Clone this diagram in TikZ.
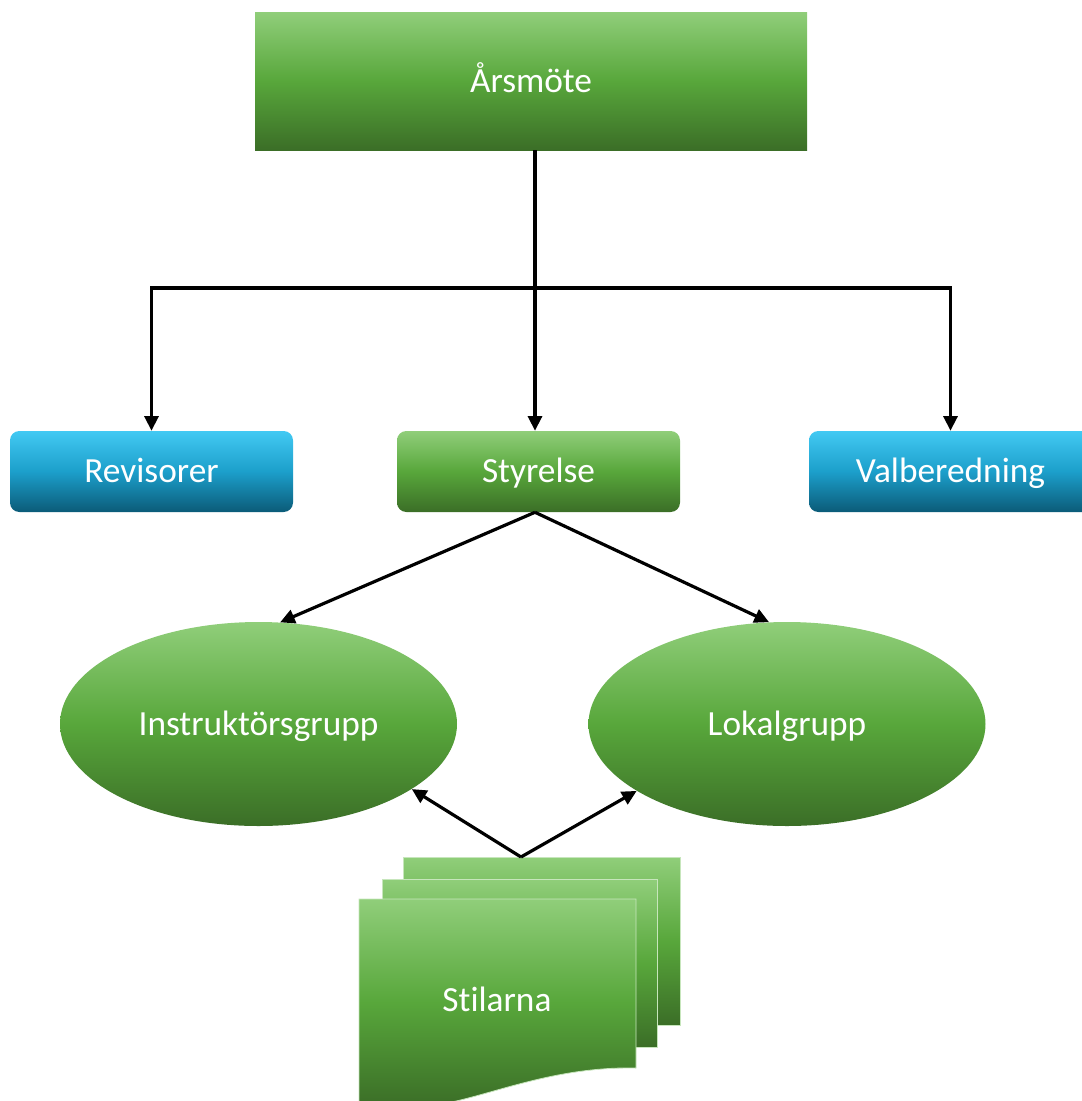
\documentclass[tikz,border=0pt]{standalone}
\usepackage{fontspec}
\setmainfont{Carlito}[Ligatures=NoCommon]
\usetikzlibrary{arrows.meta,shapes.geometric}
\definecolor{gtop}{HTML}{90CE7A}
\definecolor{gmid}{HTML}{58A73B}
\definecolor{gbot}{HTML}{3B6E27}
\definecolor{btop}{HTML}{42C9F3}
\definecolor{bmid}{HTML}{1C9FCB}
\definecolor{bbot}{HTML}{0B5B78}

\begin{document}
\begin{tikzpicture}[x=0.75pt,y=-0.75pt]
\tikzstyle{every node}+=[inner sep=0pt,text=white,font=\fontsize{26.5}{30}\selectfont,text height=17pt,text depth=0pt]
\tikzstyle{greenfill}=[top color=gtop,bottom color=gbot,middle color=gmid]
\tikzstyle{bluefill}=[top color=btop,bottom color=bbot,middle color=bmid]
\tikzstyle{box}=[rectangle,rounded corners=7pt,minimum width=212.25pt,minimum height=60.75pt]
\tikzstyle{group}=[ellipse,greenfill,minimum width=297.75pt,minimum height=153pt]
\tikzstyle{page}=[greenfill,draw=gtop!50!white,line width=0.6pt]
\tikzstyle{conn}=[black,line width=2.4pt,-{Triangle[length=11pt,width=10.5pt]}]
\useasboundingbox (0,0) rectangle (1082,1101);
\node[greenfill,rectangle,minimum width=414pt,minimum height=103.5pt] (arsmote) at (531,81) {Årsmöte};
\node[box,bluefill] (revisorer) at (151.5,471.5) {Revisorer};
\node[box,greenfill] (styrelse) at (538.5,471.5) {Styrelse};
\node[box,bluefill] (valberedning) at (950.5,471.5) {Valberedning};
\node[group] (instr) at (258.5,724) {Instruktörsgrupp};
\node[group] (lokal) at (787,724) {Lokalgrupp};
\path[page] (403,857) rectangle (680,1025);
\path[page] (382,879) rectangle (657,1047);
\path[page] (359,899) -- (636,899) -- (636,1068) .. controls (540,1066) and (470,1106) .. (420,1106) -- (359,1106) -- cycle;
\node (stilarna) at (497,1000) {Stilarna};
\coordinate (split) at (535,288);
\coordinate (stiltop) at (521,857);
\draw[conn] (split |- arsmote.south) -- (split |- styrelse.north);
\draw[conn] (split) -| (revisorer.north);
\draw[conn] (split) -| (valberedning.north);
\draw[conn] (split |- styrelse.south) -- (instr.78);
\draw[conn] (split |- styrelse.south) -- (lokal.100);
\draw[conn] (stiltop) -- (instr.-23);
\draw[conn] (stiltop) -- (lokal.204);
\end{tikzpicture}
\end{document}
